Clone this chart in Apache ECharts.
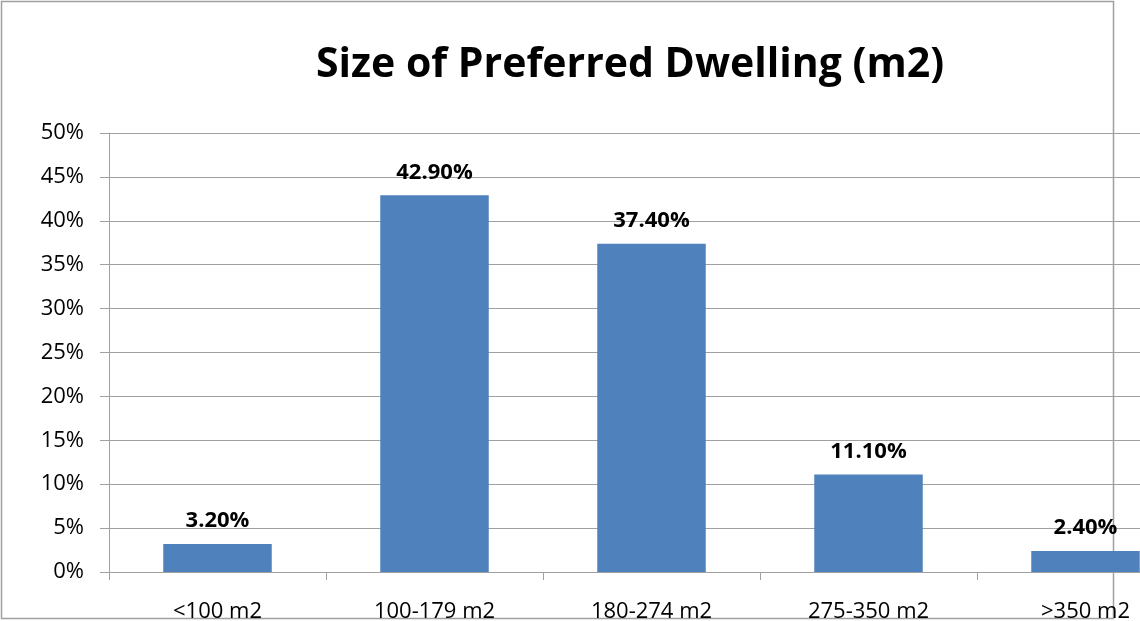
<!DOCTYPE html>
<html>
<head>
<meta charset="utf-8">
<script src="https://cdn.jsdelivr.net/npm/echarts@6/dist/echarts.min.js"></script>
<style>
    html, body { margin: 0; padding: 0; background: #fff; }
    #chart { width: 1140px; height: 621px; }
</style>
</head>
<body>
<div id="chart"></div>
<script>
let categories = ['<100 m2', '100-179 m2', '180-274 m2', '275-350 m2', '>350 m2'];
let shares = [3.2, 42.9, 37.4, 11.1, 2.4];           // percent
let yTicks = [0, 5, 10, 15, 20, 25, 30, 35, 40, 45, 50];

let chart = echarts.init(document.getElementById('chart'));
chart.setOption({
    animation: false,
    title: {
        text: 'Size of Preferred Dwelling (m2)',
        left: 625,
        textAlign: 'center',
        top: 40,
        textStyle: {
            fontFamily: 'Open Sans',
            fontWeight: 'bold',
            fontSize: 41,
            color: '#000'
        }
    },
    graphic: [
        {
            type: 'rect',
            shape: { x: 1.5, y: 1.5, width: 1112, height: 617 },
            style: { fill: 'none', stroke: '#a0a0a0', lineWidth: 1.5 },
            z: -1
        }
    ],
    grid: {
        left: 109,
        top: 133,
        width: 1085,
        height: 439,
        outerBoundsMode: 'none'
    },
    xAxis: {
        type: 'category',
        data: categories,
        axisLine: { lineStyle: { color: '#a0a0a0' } },
        axisTick: { show: true, length: 8, lineStyle: { color: '#a0a0a0' } },
        axisLabel: {
            color: '#000',
            fontFamily: 'Open Sans',
            fontSize: 22,
            margin: 29
        }
    },
    yAxis: {
        type: 'value',
        min: yTicks[0],
        max: yTicks[yTicks.length - 1],
        interval: 5,
        axisLine: { show: true, lineStyle: { color: '#a0a0a0' } },
        axisTick: { show: true, length: 9, lineStyle: { color: '#a0a0a0' } },
        axisLabel: {
            color: '#000',
            fontFamily: 'Open Sans',
            fontSize: 22,
            margin: 25,
            formatter: '{value}%'
        },
        splitLine: { lineStyle: { color: '#a0a0a0' } }
    },
    series: [
        {
            type: 'bar',
            data: shares,
            barWidth: '50%',
            itemStyle: { color: '#4f81bd' },
            label: {
                show: true,
                position: 'top',
                distance: 12,
                color: '#000',
                fontFamily: 'Open Sans',
                fontWeight: 'bold',
                fontSize: 22,
                formatter: (p) => p.value.toFixed(2) + '%'
            }
        }
    ]
});
</script>
</body>
</html>
